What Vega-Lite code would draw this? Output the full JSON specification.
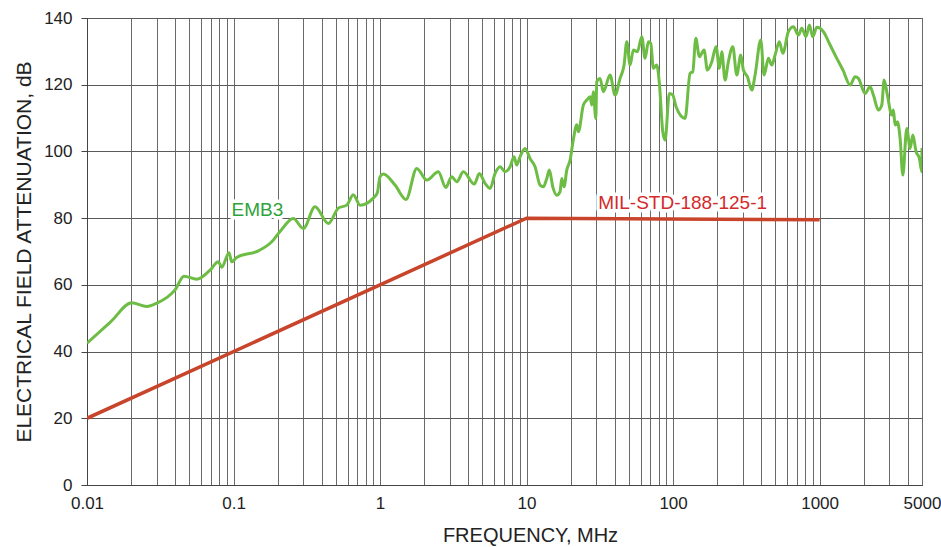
{
  "$schema": "https://vega.github.io/schema/vega-lite/v6.json",
  "width": 835,
  "height": 467,
  "autosize": {"type": "none"},
  "padding": {"left": 87, "top": 18, "right": 19, "bottom": 62},
  "background": "white",
  "config": {
    "font": "Liberation Sans",
    "view": {"stroke": "#555555", "strokeWidth": 1},
    "axis": {"titleFontWeight": "normal", "labelColor": "#222222", "titleColor": "#222222"}
  },
  "datasets": {
    "emb3": [
      {"f": 0.01, "db": 42.5}, {"f": 0.0145, "db": 48.9}, {"f": 0.0202, "db": 54.6}, {"f": 0.0256, "db": 53.5}, {"f": 0.0299, "db": 54.5},
      {"f": 0.0399, "db": 58.5}, {"f": 0.0459, "db": 62.6}, {"f": 0.0561, "db": 61.7}, {"f": 0.0691, "db": 64.4},
      {"f": 0.0788, "db": 66.9}, {"f": 0.0831, "db": 65.3}, {"f": 0.0932, "db": 69.6}, {"f": 0.0972, "db": 66.9},
      {"f": 0.1051, "db": 68.2}, {"f": 0.1477, "db": 70.2}, {"f": 0.1823, "db": 72.9}, {"f": 0.2077, "db": 76.0},
      {"f": 0.2559, "db": 79.9}, {"f": 0.2996, "db": 76.9}, {"f": 0.36, "db": 83.4}, {"f": 0.4437, "db": 78.4},
      {"f": 0.5193, "db": 83.0}, {"f": 0.5927, "db": 83.9}, {"f": 0.6572, "db": 87.0}, {"f": 0.7302, "db": 83.9},
      {"f": 0.9, "db": 86.0}, {"f": 0.9586, "db": 87.6}, {"f": 1.0, "db": 92.4}, {"f": 1.053, "db": 93.2},
      {"f": 1.266, "db": 89.9}, {"f": 1.505, "db": 85.6}, {"f": 1.781, "db": 94.9}, {"f": 2.084, "db": 91.4},
      {"f": 2.5, "db": 93.9}, {"f": 2.809, "db": 89.2}, {"f": 3.086, "db": 92.4}, {"f": 3.339, "db": 90.9},
      {"f": 3.704, "db": 93.9}, {"f": 4.402, "db": 90.2}, {"f": 4.762, "db": 93.4}, {"f": 5.21, "db": 90.4},
      {"f": 5.64, "db": 88.9}, {"f": 6.1, "db": 93.4}, {"f": 6.6, "db": 95.4}, {"f": 7.13, "db": 93.9},
      {"f": 7.72, "db": 95.4}, {"f": 8.22, "db": 98.4}, {"f": 8.57, "db": 95.9}, {"f": 9.03, "db": 98.4},
      {"f": 9.77, "db": 100.9}, {"f": 10.56, "db": 97.9}, {"f": 11.43, "db": 95.4}, {"f": 12.37, "db": 89.9},
      {"f": 13.02, "db": 89.4}, {"f": 13.74, "db": 91.9}, {"f": 14.31, "db": 94.4}, {"f": 15.1, "db": 89.4},
      {"f": 16.07, "db": 86.9}, {"f": 16.93, "db": 87.9}, {"f": 17.39, "db": 91.9}, {"f": 18.03, "db": 89.4},
      {"f": 18.81, "db": 94.4}, {"f": 19.82, "db": 97.4}, {"f": 20.87, "db": 103.6}, {"f": 22.02, "db": 108.0},
      {"f": 22.58, "db": 105.9}, {"f": 24.42, "db": 113.9}, {"f": 25.76, "db": 115.4}, {"f": 27.13, "db": 116.4},
      {"f": 27.86, "db": 113.9}, {"f": 28.58, "db": 117.9}, {"f": 29.68, "db": 109.9}, {"f": 30.15, "db": 120.9},
      {"f": 31.75, "db": 121.9}, {"f": 33.44, "db": 117.9}, {"f": 37.15, "db": 122.9}, {"f": 40.19, "db": 116.9},
      {"f": 43.47, "db": 121.9}, {"f": 46.29, "db": 125.9}, {"f": 48.31, "db": 132.9}, {"f": 50.88, "db": 125.9},
      {"f": 53.58, "db": 130.4}, {"f": 57.06, "db": 129.9}, {"f": 61.14, "db": 134.4}, {"f": 64.41, "db": 127.9},
      {"f": 67.84, "db": 132.9}, {"f": 70.45, "db": 132.4}, {"f": 73.37, "db": 124.9}, {"f": 77.39, "db": 125.9},
      {"f": 80.62, "db": 120.4}, {"f": 85.06, "db": 105.9}, {"f": 88.19, "db": 103.4}, {"f": 94.35, "db": 117.4},
      {"f": 99.5, "db": 116.9}, {"f": 104.8, "db": 113.4}, {"f": 120.8, "db": 109.9}, {"f": 130.6, "db": 123.4},
      {"f": 136.3, "db": 123.9}, {"f": 142.9, "db": 133.9}, {"f": 151.2, "db": 128.4}, {"f": 162.8, "db": 130.4},
      {"f": 171.5, "db": 124.4}, {"f": 183.8, "db": 126.9}, {"f": 196.6, "db": 131.4}, {"f": 207.0, "db": 124.9},
      {"f": 215.0, "db": 129.9}, {"f": 226.4, "db": 121.4}, {"f": 238.5, "db": 126.9}, {"f": 255.6, "db": 131.4},
      {"f": 272.2, "db": 122.9}, {"f": 289.8, "db": 128.9}, {"f": 302.0, "db": 124.4}, {"f": 321.6, "db": 122.4},
      {"f": 344.5, "db": 118.4}, {"f": 362.8, "db": 122.9}, {"f": 396.8, "db": 133.4}, {"f": 418.0, "db": 122.9},
      {"f": 447.2, "db": 127.9}, {"f": 471.7, "db": 125.9}, {"f": 497.0, "db": 128.9}, {"f": 531.6, "db": 132.9},
      {"f": 560.8, "db": 129.4}, {"f": 612.4, "db": 135.9}, {"f": 662.6, "db": 137.4}, {"f": 716.8, "db": 134.9},
      {"f": 755.9, "db": 136.9}, {"f": 808.6, "db": 134.4}, {"f": 852.0, "db": 137.9}, {"f": 898.6, "db": 134.4},
      {"f": 957.0, "db": 137.2}, {"f": 1008.0, "db": 136.9}, {"f": 1061.0, "db": 135.9}, {"f": 1180.0, "db": 131.9},
      {"f": 1300.0, "db": 128.2}, {"f": 1450.0, "db": 124.2},
      {"f": 1615.0, "db": 119.9}, {"f": 1747.0, "db": 122.4}, {"f": 1840.0, "db": 121.9}, {"f": 2045.0, "db": 117.4},
      {"f": 2212.0, "db": 119.4}, {"f": 2330.0, "db": 116.9}, {"f": 2520.0, "db": 112.4}, {"f": 2658.0, "db": 113.9},
      {"f": 2756.0, "db": 121.4}, {"f": 2903.0, "db": 116.9}, {"f": 3111.0, "db": 110.9}, {"f": 3189.0, "db": 112.4},
      {"f": 3277.0, "db": 107.9}, {"f": 3396.0, "db": 108.9}, {"f": 3544.0, "db": 103.9}, {"f": 3698.0, "db": 92.9},
      {"f": 3937.0, "db": 106.9}, {"f": 4147.0, "db": 100.9}, {"f": 4328.0, "db": 104.9}, {"f": 4558.0, "db": 99.9},
      {"f": 4800.0, "db": 97.9}, {"f": 4984.0, "db": 93.9}, {"f": 5000.0, "db": 101.0}
    ],
    "mil": [
      {"f": 0.01, "db": 20}, {"f": 10, "db": 80}, {"f": 1000, "db": 79.5}
    ],
    "labels": [
      {"f": 0.097, "db": 82.4, "label": "EMB3"},
      {"f": 30.8, "db": 84.4, "label": "MIL-STD-188-125-1"}
    ]
  },
  "encoding": {
    "x": {
      "field": "f",
      "type": "quantitative",
      "scale": {"type": "log", "domain": [0.01, 5000]},
      "axis": {
        "values": [0.01, 0.02, 0.03, 0.04, 0.05, 0.06, 0.07, 0.08, 0.09,
                   0.1, 0.2, 0.3, 0.4, 0.5, 0.6, 0.7, 0.8, 0.9,
                   1, 2, 3, 4, 5, 6, 7, 8, 9,
                   10, 20, 30, 40, 50, 60, 70, 80, 90,
                   100, 200, 300, 400, 500, 600, 700, 800, 900,
                   1000, 2000, 3000, 4000, 5000],
        "labelExpr": "indexof([0.01, 0.1, 1, 10, 100, 1000, 5000], datum.value) >= 0 ? format(datum.value, '~g') : ''",
        "labelOverlap": false,
        "labelFlush": false,
        "ticks": false,
        "domainColor": "#444444",
        "gridColor": "#6a6a6a",
        "gridWidth": 1,
        "labelFontSize": 17,
        "labelPadding": 10,
        "title": "FREQUENCY, MHz",
        "titleFontSize": 20,
        "titlePadding": 14,
        "titleX": 443,
        "titleAlign": "center"
      }
    },
    "y": {
      "field": "db",
      "type": "quantitative",
      "scale": {"domain": [0, 140]},
      "axis": {
        "values": [0, 20, 40, 60, 80, 100, 120, 140],
        "tickSize": 6,
        "tickColor": "#444444",
        "domainColor": "#444444",
        "gridColor": "#5a5a5a",
        "gridWidth": 1,
        "labelFontSize": 17,
        "labelPadding": 9,
        "title": "ELECTRICAL FIELD ATTENUATION, dB",
        "titleFontSize": 21,
        "titlePadding": 9
      }
    }
  },
  "layer": [
    {
      "data": {"name": "mil"},
      "mark": {"type": "line", "color": "#c8442b", "strokeWidth": 3.5, "clip": true}
    },
    {
      "data": {"name": "emb3"},
      "mark": {"type": "line", "color": "#6dbd45", "strokeWidth": 3, "clip": true, "interpolate": "monotone"}
    },
    {
      "data": {"name": "labels"},
      "mark": {"type": "text", "align": "left", "baseline": "middle", "fontSize": 19, "stroke": "white", "strokeWidth": 7, "strokeJoin": "round", "fill": "white"},
      "encoding": {"text": {"field": "label"}}
    },
    {
      "data": {"name": "labels"},
      "transform": [{"filter": "datum.label == 'EMB3'"}],
      "mark": {"type": "text", "align": "left", "baseline": "middle", "fontSize": 19, "color": "#2fa33a"},
      "encoding": {"text": {"field": "label"}}
    },
    {
      "data": {"name": "labels"},
      "transform": [{"filter": "datum.label != 'EMB3'"}],
      "mark": {"type": "text", "align": "left", "baseline": "middle", "fontSize": 19, "color": "#d42a2a"},
      "encoding": {"text": {"field": "label"}}
    }
  ]
}
